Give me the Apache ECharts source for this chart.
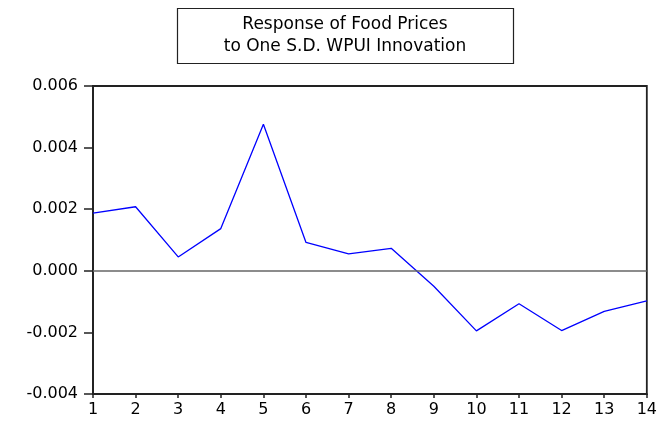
<!DOCTYPE html>
<html>
<head>
<meta charset="utf-8">
<script src="https://cdn.jsdelivr.net/npm/echarts@6/dist/echarts.min.js"></script>
<style>html,body{margin:0;padding:0;background:#fff;}#c{width:660px;height:423px;}</style>
</head>
<body>
<div id="c"></div>
<script>
var periods = [1,2,3,4,5,6,7,8,9,10,11,12,13,14];
var response = [0.00187,0.00208,0.00045,0.00137,0.00476,0.00092,0.00055,0.00073,-0.00050,-0.00195,-0.00107,-0.00194,-0.00132,-0.00098];
var titleLines = ['Response of Food Prices','to One S.D. WPUI Innovation'];
var yMin = -0.004, yMax = 0.006, yStep = 0.002;

var chart = echarts.init(document.getElementById('c'));
var font = 'DejaVu Sans';
chart.setOption({
  animation: false,
  backgroundColor: '#fff',
  grid: {left: 93, right: 12, top: 86, bottom: 29, show: true, borderColor: '#222', borderWidth: 1.8, backgroundColor: 'transparent'},
  graphic: [
    {type: 'rect', shape: {x: 177.5, y: 8.5, width: 336, height: 55}, style: {fill: '#fff', stroke: '#222', lineWidth: 1.2}},
    {type: 'text', x: 345, y: 36, style: {text: titleLines.join('\n'), font: '17px "DejaVu Sans"', fill: '#000', textAlign: 'center', textVerticalAlign: 'middle', lineHeight: 22}}
  ],
  xAxis: {
    type: 'value', min: 1, max: 14, interval: 1,
    axisLine: {show: true, onZero: false, lineStyle: {color: '#222', width: 1.8}},
    axisTick: {show: true, inside: false, length: 4, lineStyle: {color: '#222', width: 1.5}},
    axisLabel: {fontFamily: font, fontSize: 16, color: '#000', margin: 8},
    splitLine: {show: false}
  },
  yAxis: {
    type: 'value', min: yMin, max: yMax, interval: yStep,
    axisLine: {show: true, onZero: false, lineStyle: {color: '#222', width: 1.8}},
    axisTick: {show: true, inside: false, length: 9, lineStyle: {color: '#222', width: 1.5}},
    axisLabel: {fontFamily: font, fontSize: 16, color: '#000', margin: 15, formatter: function (v) { return v.toFixed(3); }},
    splitLine: {show: false}
  },
  series: [{
    type: 'line',
    data: periods.map(function (p, i) { return [p, response[i]]; }),
    showSymbol: false,
    lineStyle: {color: '#0000ff', width: 1.3},
    markLine: {
      silent: true, symbol: 'none', label: {show: false},
      lineStyle: {color: '#666', width: 1.5, type: 'solid'},
      data: [{yAxis: 0}]
    },
    z: 3
  }]
});
</script>
</body>
</html>
